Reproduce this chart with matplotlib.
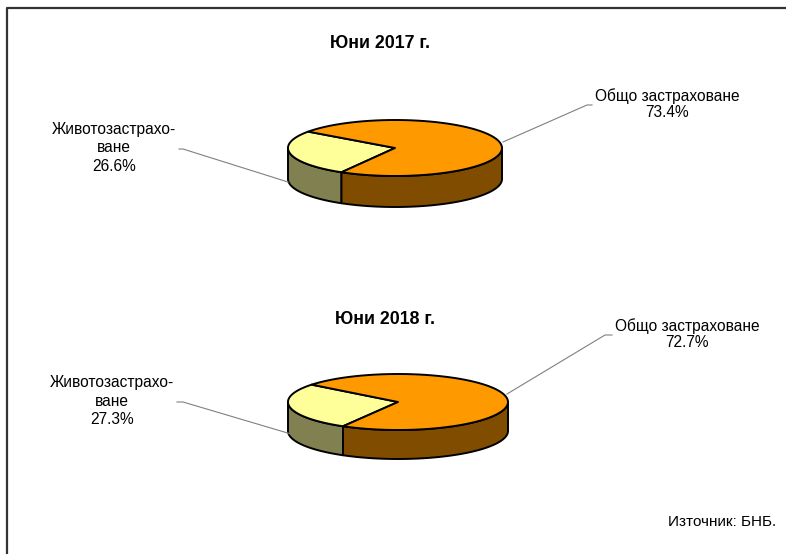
import numpy as np
import matplotlib.pyplot as plt

plt.rcParams['font.family'] = ['Liberation Sans', 'DejaVu Sans']

# данни
titles = ['Юни 2017 г.', 'Юни 2018 г.']
categories = ['Животозастрахо-\nване', 'Общо застраховане']
life_share = [26.6, 27.3]
general_share = [73.4, 72.7]
source = 'Източник: БНБ.'

top_colors = ['#FFFF99', '#FF9900']
side_colors = ['#808050', '#804C00']

fig = plt.figure(figsize=(7.86, 5.54), dpi=100)
ax = fig.add_axes([0, 0, 1, 1])
ax.set_xlim(0, 786)
ax.set_ylim(554, 0)
ax.axis('off')

# рамка
ax.plot([7, 7, 786], [554, 8, 8], color='#333333', lw=1.6, solid_capstyle='butt')


def arc(cx, cy, a, b, t0, t1, dy=0, n=80):
    t = np.radians(np.linspace(t0, t1, n))
    return cx + a * np.cos(t), cy - b * np.sin(t) + dy


def pie3d(cx, cy, a, b, depth, values):
    total = sum(values)
    end = 240.0
    spans = []
    start = end - 360 * values[0] / total
    spans.append((start, end))
    spans.append((end, start + 360))
    # страни (видима предна половина 180..360)
    for (t0, t1), col in zip(spans, side_colors):
        for off in (0, 360, -360):
            s0, s1 = max(t0 + off, 180), min(t1 + off, 360)
            if s1 > s0:
                xt, yt = arc(cx, cy, a, b, s0, s1)
                xb, yb = arc(cx, cy, a, b, s1, s0, dy=depth)
                ax.fill(np.r_[xt, xb], np.r_[yt, yb], facecolor=col,
                        edgecolor='black', lw=1.4, joinstyle='round')
    # горна повърхност
    for (t0, t1), col in zip(spans, top_colors):
        xs, ys = arc(cx, cy, a, b, t0, t1)
        ax.fill(np.r_[cx, xs], np.r_[cy, ys], facecolor=col,
                edgecolor='black', lw=1.4, joinstyle='round')


pies = [dict(cx=395, cy=148, a=107, b=28, depth=31),
        dict(cx=398, cy=402, a=110, b=28, depth=29)]
title_pos = [(380, 44), (385, 320)]
left_lab = [(114, 148), (112, 401)]
right_lab = [(667, 104), (687, 334)]
left_lead = [([179, 183, 288], [149, 149, 182]), ([177, 183, 291], [402, 402, 434])]
right_lead = [([503, 587, 592], [142, 105, 105]), ([507, 605, 612], [394, 335, 335])]

for i in range(2):
    pie3d(values=[life_share[i], general_share[i]], **pies[i])
    ax.text(*title_pos[i], titles[i], ha='center', va='center',
            fontsize=12.8, fontweight='bold')
    ax.plot(*left_lead[i], color='#808080', lw=0.8)
    ax.plot(*right_lead[i], color='#808080', lw=0.8)
    ax.text(*left_lab[i], f'{categories[0]}\n{life_share[i]:.1f}%',
            ha='center', va='center', fontsize=11.2, linespacing=1.3)
    ax.text(*right_lab[i], f'{categories[1]}\n{general_share[i]:.1f}%',
            ha='center', va='center', fontsize=11.2, linespacing=1.15)

ax.text(776, 522, source, ha='right', va='center', fontsize=11)

fig.savefig('out.png', dpi=100)
